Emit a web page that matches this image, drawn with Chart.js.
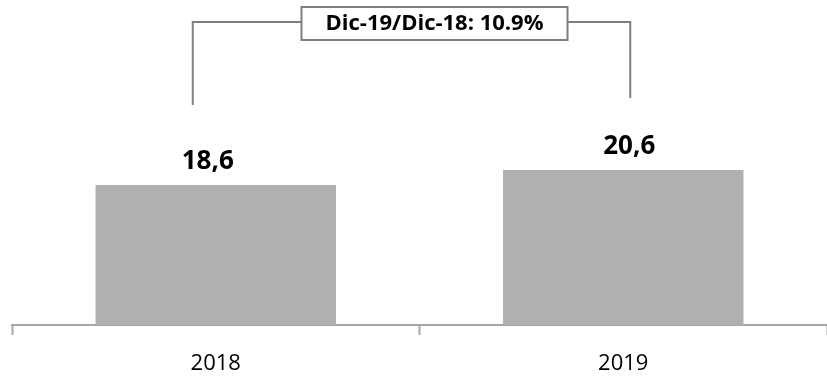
<!DOCTYPE html>
<html lang="es">
<head>
<meta charset="UTF-8">
<title>Dic-19/Dic-18</title>
<script src="https://cdn.jsdelivr.net/npm/chart.js"></script>
<style>
  html, body { margin: 0; padding: 0; background: #fff; }
  #wrap { width: 827px; height: 382px; }
</style>
</head>
<body>
<div id="wrap"><canvas id="myChart" width="827" height="382"></canvas></div>
<script>
const years = ['2018', '2019'];
const values = [18.6, 20.6];
const changeLabel = 'Dic-19/Dic-18: 10.9%';

const fmt = v => v.toFixed(1).replace('.', ',');

// value labels above bars + the bracket with the growth box
const extras = {
  id: 'extras',
  afterDatasetsDraw(chart) {
    const ctx = chart.ctx;
    const bars = chart.getDatasetMeta(0).data;
    const nudge = [-8, 6];
    ctx.save();
    ctx.fillStyle = '#000';
    ctx.font = 'bold 26px "Open Sans", sans-serif';
    ctx.textAlign = 'center';
    ctx.textBaseline = 'alphabetic';
    bars.forEach((b, i) => ctx.fillText(fmt(values[i]), b.x + nudge[i], b.y - 16));

    // bracket
    const x1 = bars[0].x - 23, x2 = bars[1].x + 7;
    const yTop = 22;
    ctx.strokeStyle = '#7f7f7f';
    ctx.lineWidth = 2;
    ctx.beginPath();
    ctx.moveTo(x1, bars[0].y - 80);
    ctx.lineTo(x1, yTop);
    ctx.lineTo(x2, yTop);
    ctx.lineTo(x2, bars[1].y - 72);
    ctx.stroke();

    ctx.font = 'bold 22px "Open Sans", sans-serif';
    const w = ctx.measureText(changeLabel).width + 48;
    const cx = (bars[0].x + bars[1].x) / 2 + 15;
    ctx.fillStyle = '#fff';
    ctx.fillRect(cx - w / 2, 7, w, 33);
    ctx.strokeRect(cx - w / 2, 7, w, 33);
    ctx.fillStyle = '#000';
    ctx.textBaseline = 'middle';
    ctx.fillText(changeLabel, cx, 24);
    ctx.restore();
  }
};

new Chart(document.getElementById('myChart'), {
  type: 'bar',
  data: {
    labels: years,
    datasets: [{
      data: values,
      backgroundColor: '#b0b0b0',
      barPercentage: 0.59,
      categoryPercentage: 1
    }]
  },
  options: {
    responsive: false,
    animation: false,
    layout: { padding: { left: 12, right: 0, top: 0, bottom: 0 } },
    plugins: { legend: { display: false }, tooltip: { enabled: false } },
    scales: {
      x: {
        afterFit(scale) { scale.height = 57; },
        grid: { offset: true, drawOnChartArea: false, tickLength: 10, tickWidth: 2, color: '#a6a6a6' },
        border: { color: '#a6a6a6', width: 2 },
        ticks: { color: '#000', font: { family: 'Open Sans', size: 22 }, padding: 16 }
      },
      y: { display: false, min: 0, max: 43.2 }
    }
  },
  plugins: [extras]
});
</script>
</body>
</html>
